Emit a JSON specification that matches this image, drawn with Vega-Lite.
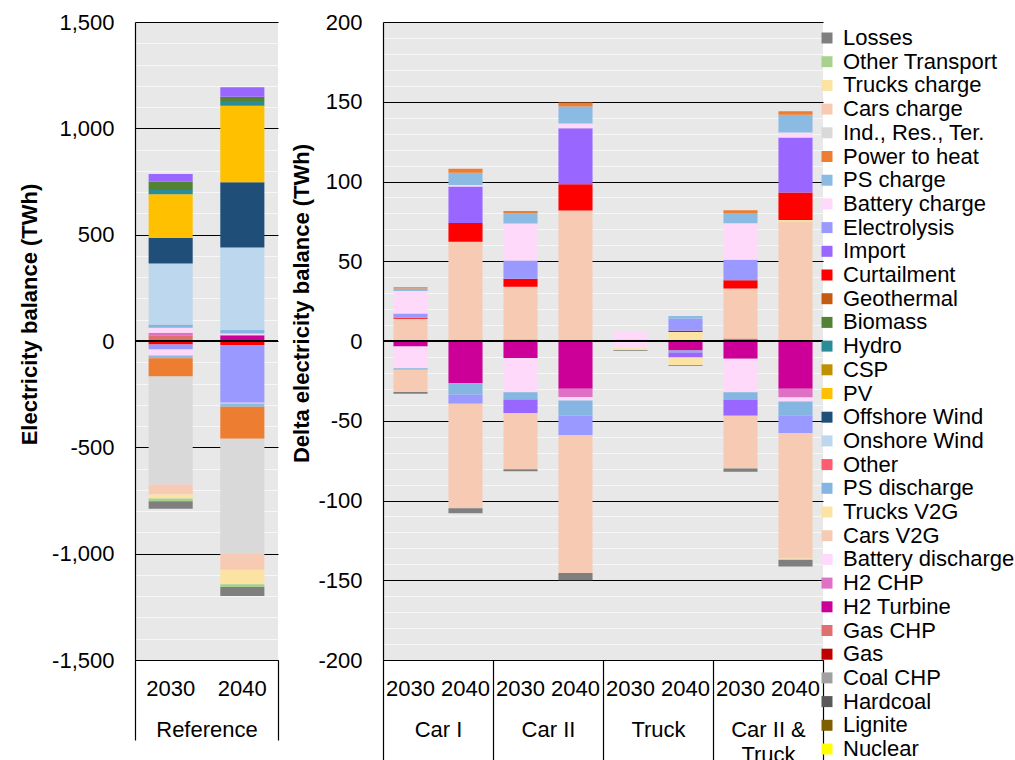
{
  "$schema": "https://vega.github.io/schema/vega-lite/v6.json",
  "background": "white",
  "padding": {"left": 18, "top": 11, "right": 0, "bottom": 0},
  "spacing": 11,
  "config": {
    "font": "Liberation Sans",
    "view": {"stroke": null, "fill": "#e8e8e8"},
    "axis": {"labelFont": "Liberation Sans", "titleFont": "Liberation Sans", "labelColor": "black", "titleColor": "black"}
  },
  "datasets": {
    "ref": [
      {"g": "Reference", "y": "2030", "s": "Gas CHP", "v": 27},
      {"g": "Reference", "y": "2030", "s": "H2 CHP", "v": 12},
      {"g": "Reference", "y": "2030", "s": "Battery discharge", "v": 23},
      {"g": "Reference", "y": "2030", "s": "PS discharge", "v": 16},
      {"g": "Reference", "y": "2030", "s": "Onshore Wind", "v": 286},
      {"g": "Reference", "y": "2030", "s": "Offshore Wind", "v": 122},
      {"g": "Reference", "y": "2030", "s": "PV", "v": 204},
      {"g": "Reference", "y": "2030", "s": "Hydro", "v": 20},
      {"g": "Reference", "y": "2030", "s": "Biomass", "v": 39},
      {"g": "Reference", "y": "2030", "s": "Import", "v": 36},
      {"g": "Reference", "y": "2030", "s": "Curtailment", "v": -16},
      {"g": "Reference", "y": "2030", "s": "Electrolysis", "v": -24},
      {"g": "Reference", "y": "2030", "s": "Battery charge", "v": -28},
      {"g": "Reference", "y": "2030", "s": "PS charge", "v": -13},
      {"g": "Reference", "y": "2030", "s": "Power to heat", "v": -86},
      {"g": "Reference", "y": "2030", "s": "Ind., Res., Ter.", "v": -508},
      {"g": "Reference", "y": "2030", "s": "Cars charge", "v": -47},
      {"g": "Reference", "y": "2030", "s": "Trucks charge", "v": -19},
      {"g": "Reference", "y": "2030", "s": "Other Transport", "v": -13},
      {"g": "Reference", "y": "2030", "s": "Losses", "v": -35},
      {"g": "Reference", "y": "2040", "s": "H2 Turbine", "v": 27},
      {"g": "Reference", "y": "2040", "s": "Battery discharge", "v": 8},
      {"g": "Reference", "y": "2040", "s": "PS discharge", "v": 17},
      {"g": "Reference", "y": "2040", "s": "Onshore Wind", "v": 388},
      {"g": "Reference", "y": "2040", "s": "Offshore Wind", "v": 307},
      {"g": "Reference", "y": "2040", "s": "PV", "v": 359},
      {"g": "Reference", "y": "2040", "s": "Hydro", "v": 22},
      {"g": "Reference", "y": "2040", "s": "Biomass", "v": 20},
      {"g": "Reference", "y": "2040", "s": "Import", "v": 45},
      {"g": "Reference", "y": "2040", "s": "Curtailment", "v": -20},
      {"g": "Reference", "y": "2040", "s": "Electrolysis", "v": -270},
      {"g": "Reference", "y": "2040", "s": "Battery charge", "v": -4},
      {"g": "Reference", "y": "2040", "s": "PS charge", "v": -15},
      {"g": "Reference", "y": "2040", "s": "Power to heat", "v": -151},
      {"g": "Reference", "y": "2040", "s": "Ind., Res., Ter.", "v": -542},
      {"g": "Reference", "y": "2040", "s": "Cars charge", "v": -74},
      {"g": "Reference", "y": "2040", "s": "Trucks charge", "v": -68},
      {"g": "Reference", "y": "2040", "s": "Other Transport", "v": -13},
      {"g": "Reference", "y": "2040", "s": "Losses", "v": -42}
    ],
    "delta": [
      {"g": "Car I", "y": "2030", "s": "Cars V2G", "v": 14.0},
      {"g": "Car I", "y": "2030", "s": "Curtailment", "v": 0.5},
      {"g": "Car I", "y": "2030", "s": "Electrolysis", "v": 2.7},
      {"g": "Car I", "y": "2030", "s": "Battery charge", "v": 14.2},
      {"g": "Car I", "y": "2030", "s": "PS charge", "v": 1.5},
      {"g": "Car I", "y": "2030", "s": "Power to heat", "v": 0.8},
      {"g": "Car I", "y": "2030", "s": "H2 Turbine", "v": -3.4},
      {"g": "Car I", "y": "2030", "s": "Battery discharge", "v": -13.7},
      {"g": "Car I", "y": "2030", "s": "PS discharge", "v": -1.0},
      {"g": "Car I", "y": "2030", "s": "Cars charge", "v": -13.9},
      {"g": "Car I", "y": "2030", "s": "Losses", "v": -1.0},
      {"g": "Car I", "y": "2040", "s": "Cars V2G", "v": 62.3},
      {"g": "Car I", "y": "2040", "s": "Curtailment", "v": 11.7},
      {"g": "Car I", "y": "2040", "s": "Import", "v": 22.8},
      {"g": "Car I", "y": "2040", "s": "Battery charge", "v": 1.0},
      {"g": "Car I", "y": "2040", "s": "PS charge", "v": 7.7},
      {"g": "Car I", "y": "2040", "s": "Power to heat", "v": 2.5},
      {"g": "Car I", "y": "2040", "s": "H2 Turbine", "v": -26.5},
      {"g": "Car I", "y": "2040", "s": "PS discharge", "v": -7.1},
      {"g": "Car I", "y": "2040", "s": "Electrolysis", "v": -5.7},
      {"g": "Car I", "y": "2040", "s": "Cars charge", "v": -65.5},
      {"g": "Car I", "y": "2040", "s": "Losses", "v": -3.2},
      {"g": "Car II", "y": "2030", "s": "Gas CHP", "v": 1.0},
      {"g": "Car II", "y": "2030", "s": "Cars V2G", "v": 33.0},
      {"g": "Car II", "y": "2030", "s": "Curtailment", "v": 5.0},
      {"g": "Car II", "y": "2030", "s": "Electrolysis", "v": 11.5},
      {"g": "Car II", "y": "2030", "s": "Battery charge", "v": 23.2},
      {"g": "Car II", "y": "2030", "s": "PS charge", "v": 6.3},
      {"g": "Car II", "y": "2030", "s": "Power to heat", "v": 1.5},
      {"g": "Car II", "y": "2030", "s": "H2 Turbine", "v": -10.7},
      {"g": "Car II", "y": "2030", "s": "Battery discharge", "v": -21.4},
      {"g": "Car II", "y": "2030", "s": "PS discharge", "v": -4.6},
      {"g": "Car II", "y": "2030", "s": "Import", "v": -8.4},
      {"g": "Car II", "y": "2030", "s": "Cars charge", "v": -35.3},
      {"g": "Car II", "y": "2030", "s": "Losses", "v": -1.3},
      {"g": "Car II", "y": "2040", "s": "Cars V2G", "v": 81.8},
      {"g": "Car II", "y": "2040", "s": "Curtailment", "v": 16.5},
      {"g": "Car II", "y": "2040", "s": "Import", "v": 35.1},
      {"g": "Car II", "y": "2040", "s": "Battery charge", "v": 2.9},
      {"g": "Car II", "y": "2040", "s": "PS charge", "v": 10.7},
      {"g": "Car II", "y": "2040", "s": "Power to heat", "v": 2.5},
      {"g": "Car II", "y": "2040", "s": "H2 Turbine", "v": -30.0},
      {"g": "Car II", "y": "2040", "s": "H2 CHP", "v": -5.2},
      {"g": "Car II", "y": "2040", "s": "Battery discharge", "v": -2.1},
      {"g": "Car II", "y": "2040", "s": "PS discharge", "v": -9.4},
      {"g": "Car II", "y": "2040", "s": "Electrolysis", "v": -12.2},
      {"g": "Car II", "y": "2040", "s": "Cars charge", "v": -86.5},
      {"g": "Car II", "y": "2040", "s": "Losses", "v": -4.6},
      {"g": "Truck", "y": "2030", "s": "Trucks V2G", "v": 1.3},
      {"g": "Truck", "y": "2030", "s": "Battery charge", "v": 4.9},
      {"g": "Truck", "y": "2030", "s": "Battery discharge", "v": -4.6},
      {"g": "Truck", "y": "2030", "s": "Trucks charge", "v": -1.2},
      {"g": "Truck", "y": "2030", "s": "Losses", "v": -0.4},
      {"g": "Truck", "y": "2040", "s": "Trucks V2G", "v": 5.6},
      {"g": "Truck", "y": "2040", "s": "Curtailment", "v": 0.8},
      {"g": "Truck", "y": "2040", "s": "Electrolysis", "v": 7.7},
      {"g": "Truck", "y": "2040", "s": "PS charge", "v": 1.5},
      {"g": "Truck", "y": "2040", "s": "H2 Turbine", "v": -6.0},
      {"g": "Truck", "y": "2040", "s": "PS discharge", "v": -1.2},
      {"g": "Truck", "y": "2040", "s": "Import", "v": -3.1},
      {"g": "Truck", "y": "2040", "s": "Trucks charge", "v": -4.8},
      {"g": "Truck", "y": "2040", "s": "Losses", "v": -0.4},
      {"g": "Car II & Truck", "y": "2030", "s": "Gas CHP", "v": 1.5},
      {"g": "Car II & Truck", "y": "2030", "s": "Cars V2G", "v": 31.4},
      {"g": "Car II & Truck", "y": "2030", "s": "Curtailment", "v": 5.2},
      {"g": "Car II & Truck", "y": "2030", "s": "Electrolysis", "v": 12.8},
      {"g": "Car II & Truck", "y": "2030", "s": "Battery charge", "v": 23.0},
      {"g": "Car II & Truck", "y": "2030", "s": "PS charge", "v": 6.3},
      {"g": "Car II & Truck", "y": "2030", "s": "Power to heat", "v": 1.7},
      {"g": "Car II & Truck", "y": "2030", "s": "H2 Turbine", "v": -11.1},
      {"g": "Car II & Truck", "y": "2030", "s": "Battery discharge", "v": -21.0},
      {"g": "Car II & Truck", "y": "2030", "s": "PS discharge", "v": -4.8},
      {"g": "Car II & Truck", "y": "2030", "s": "Import", "v": -9.9},
      {"g": "Car II & Truck", "y": "2030", "s": "Cars charge", "v": -33.2},
      {"g": "Car II & Truck", "y": "2030", "s": "Losses", "v": -1.9},
      {"g": "Car II & Truck", "y": "2040", "s": "Cars V2G", "v": 74.9},
      {"g": "Car II & Truck", "y": "2040", "s": "Trucks V2G", "v": 1.0},
      {"g": "Car II & Truck", "y": "2040", "s": "Curtailment", "v": 17.2},
      {"g": "Car II & Truck", "y": "2040", "s": "Import", "v": 34.5},
      {"g": "Car II & Truck", "y": "2040", "s": "Battery charge", "v": 3.1},
      {"g": "Car II & Truck", "y": "2040", "s": "PS charge", "v": 11.1},
      {"g": "Car II & Truck", "y": "2040", "s": "Power to heat", "v": 2.3},
      {"g": "Car II & Truck", "y": "2040", "s": "H2 Turbine", "v": -30.0},
      {"g": "Car II & Truck", "y": "2040", "s": "H2 CHP", "v": -5.5},
      {"g": "Car II & Truck", "y": "2040", "s": "Battery discharge", "v": -2.5},
      {"g": "Car II & Truck", "y": "2040", "s": "PS discharge", "v": -8.8},
      {"g": "Car II & Truck", "y": "2040", "s": "Electrolysis", "v": -10.9},
      {"g": "Car II & Truck", "y": "2040", "s": "Cars charge", "v": -78.7},
      {"g": "Car II & Truck", "y": "2040", "s": "Trucks charge", "v": -0.8},
      {"g": "Car II & Truck", "y": "2040", "s": "Losses", "v": -4.2}
    ]
  },
  "hconcat": [
    {
      "width": 143,
      "height": 638,
      "data": {"name": "ref"},
      "transform": [
        {"calculate": "indexof(['Losses','Other Transport','Trucks charge','Cars charge','Ind., Res., Ter.','Power to heat','PS charge','Battery charge','Electrolysis','Import','Curtailment','Geothermal','Biomass','Hydro','CSP','PV','Offshore Wind','Onshore Wind','Other','PS discharge','Trucks V2G','Cars V2G','Battery discharge','H2 CHP','H2 Turbine','Gas CHP','Gas','Coal CHP','Hardcoal','Lignite','Nuclear'], datum.s)", "as": "o"}
      ],
      "layer": [
        {
          "mark": {"type": "bar"},
          "encoding": {
            "x": {"field": "y", "type": "nominal",
              "scale": {"domain": ["2030", "2040"], "paddingInner": 0.385, "paddingOuter": 0.19},
              "axis": {"orient": "bottom", "title": null, "ticks": false, "domain": true, "domainColor": "black", "domainWidth": 1.2, "labelPadding": 18, "labelFontSize": 22, "labelAngle": 0, "grid": false}},
            "y": {"field": "v", "type": "quantitative", "stack": "zero",
              "scale": {"domain": [-1500, 1500], "nice": false, "zero": false},
              "axis": {"values": [-1500, -1000, -500, 0, 500, 1000, 1500],
                "title": "Electricity balance  (TWh)", "titleFontSize": 22, "titleFontWeight": "bold", "titlePadding": 10, "titleY": 292,
                "grid": true, "gridColor": "black", "gridWidth": 1.2,
                "ticks": false, "domain": true, "domainColor": "black", "domainWidth": 1.2,
                "labelFontSize": 22, "labelPadding": 21, "labelOverlap": false,
                "labelExpr": "replace(format(datum.value, ','), '\u2212', '-')"}},
            "color": {"field": "s", "type": "nominal",
              "scale": {
                "domain": ["Losses","Other Transport","Trucks charge","Cars charge","Ind., Res., Ter.","Power to heat","PS charge","Battery charge","Electrolysis","Import","Curtailment","Geothermal","Biomass","Hydro","CSP","PV","Offshore Wind","Onshore Wind","Other","PS discharge","Trucks V2G","Cars V2G","Battery discharge","H2 CHP","H2 Turbine","Gas CHP","Gas","Coal CHP","Hardcoal","Lignite","Nuclear"],
                "range": ["#7f7f7f","#a9d18e","#fce3a4","#f7cab4","#d9d9d9","#ed7d31","#8bbbe3","#ffd9f9","#9999ff","#9966ff","#ff0000","#c55a11","#548235","#2a8c96","#bf9000","#ffc000","#1f4e79","#bdd7ee","#ff5b6e","#84b6e1","#fce3a4","#f7cab4","#ffd9f9","#e070c4","#cc0099","#e07070","#c00000","#a0a0a0","#595959","#7f6000","#ffff00"]
              },
              "legend": {"orient": "none", "legendX": 681, "legendY": 5, "title": null, "symbolType": "square", "symbolSize": 121, "symbolStrokeWidth": 0, "symbolLimit": 0, "labelFontSize": 22, "labelFont": "Liberation Sans", "labelColor": "black", "labelLimit": 300, "labelOffset": 5, "rowPadding": 1.7, "padding": 0}},
            "order": {"field": "o", "type": "quantitative", "sort": "descending"}
          }
        },
        {
          "mark": {"type": "bar", "opacity": 0},
          "encoding": {
            "x": {"field": "g", "type": "nominal",
              "scale": {"type": "band", "domain": ["Reference"], "paddingInner": 0, "paddingOuter": 0},
              "axis": {"orient": "bottom", "title": null, "domain": false, "tickBand": "extent", "tickSize": 80, "tickColor": "black", "tickWidth": 1.2, "labelPadding": -21, "labelFontSize": 22, "labelAngle": 0, "grid": false}},
            "y": {"datum": 0,
              "scale": {"domain": [-1500, 1500], "nice": false, "zero": false},
              "axis": {"orient": "right", "values": [-1400,-1300,-1200,-1100,-900,-800,-700,-600,-400,-300,-200,-100,100,200,300,400,600,700,800,900,1100,1200,1300,1400],
                "title": null, "labels": false, "ticks": false, "domain": false, "grid": true, "gridColor": "#f7f7f7", "gridWidth": 1}}
          }
        },
        {
          "mark": {"type": "rule", "color": "black", "strokeWidth": 1.2},
          "encoding": {"y": {"datum": 0, "scale": {"domain": [-1500, 1500], "nice": false, "zero": false}, "axis": null}}
        }
      ],
      "resolve": {"scale": {"x": "independent", "y": "independent"}, "axis": {"x": "independent", "y": "independent"}}
    },
    {
      "width": 440,
      "height": 638,
      "data": {"name": "delta"},
      "transform": [
        {"calculate": "indexof(['Losses','Other Transport','Trucks charge','Cars charge','Ind., Res., Ter.','Power to heat','PS charge','Battery charge','Electrolysis','Import','Curtailment','Geothermal','Biomass','Hydro','CSP','PV','Offshore Wind','Onshore Wind','Other','PS discharge','Trucks V2G','Cars V2G','Battery discharge','H2 CHP','H2 Turbine','Gas CHP','Gas','Coal CHP','Hardcoal','Lignite','Nuclear'], datum.s)", "as": "o"},
        {"calculate": "datum.g + '|' + datum.y", "as": "k"}
      ],
      "layer": [
        {
          "mark": {"type": "bar"},
          "encoding": {
            "x": {"field": "k", "type": "nominal",
              "scale": {"domain": ["Car I|2030","Car I|2040","Car II|2030","Car II|2040","Truck|2030","Truck|2040","Car II & Truck|2030","Car II & Truck|2040"], "paddingInner": 0.38, "paddingOuter": 0.19},
              "axis": {"orient": "bottom", "title": null, "ticks": false, "domain": true, "domainColor": "black", "domainWidth": 1.2, "labelPadding": 18, "labelFontSize": 22, "labelAngle": 0, "grid": false, "labelExpr": "split(datum.value, '|')[1]"}},
            "y": {"field": "v", "type": "quantitative", "stack": "zero",
              "scale": {"domain": [-200, 200], "nice": false, "zero": false},
              "axis": {"values": [-200, -150, -100, -50, 0, 50, 100, 150, 200],
                "title": "Delta electricity balance  (TWh)", "titleFontSize": 22, "titleFontWeight": "bold", "titlePadding": 4, "titleY": 281,
                "grid": true, "gridColor": "black", "gridWidth": 1.2,
                "ticks": false, "domain": true, "domainColor": "black", "domainWidth": 1.2,
                "labelFontSize": 22, "labelPadding": 21, "labelOverlap": false,
                "labelExpr": "'' + datum.value"}},
            "color": {"field": "s", "type": "nominal",
              "scale": {
                "domain": ["Losses","Other Transport","Trucks charge","Cars charge","Ind., Res., Ter.","Power to heat","PS charge","Battery charge","Electrolysis","Import","Curtailment","Geothermal","Biomass","Hydro","CSP","PV","Offshore Wind","Onshore Wind","Other","PS discharge","Trucks V2G","Cars V2G","Battery discharge","H2 CHP","H2 Turbine","Gas CHP","Gas","Coal CHP","Hardcoal","Lignite","Nuclear"],
                "range": ["#7f7f7f","#a9d18e","#fce3a4","#f7cab4","#d9d9d9","#ed7d31","#8bbbe3","#ffd9f9","#9999ff","#9966ff","#ff0000","#c55a11","#548235","#2a8c96","#bf9000","#ffc000","#1f4e79","#bdd7ee","#ff5b6e","#84b6e1","#fce3a4","#f7cab4","#ffd9f9","#e070c4","#cc0099","#e07070","#c00000","#a0a0a0","#595959","#7f6000","#ffff00"]
              },
              "legend": {"orient": "none", "legendX": 681, "legendY": 5, "title": null, "symbolType": "square", "symbolSize": 121, "symbolStrokeWidth": 0, "symbolLimit": 0, "labelFontSize": 22, "labelFont": "Liberation Sans", "labelColor": "black", "labelLimit": 300, "labelOffset": 5, "rowPadding": 1.7, "padding": 0}},
            "order": {"field": "o", "type": "quantitative", "sort": "descending"}
          }
        },
        {
          "mark": {"type": "bar", "opacity": 0},
          "encoding": {
            "x": {"field": "g", "type": "nominal",
              "scale": {"type": "band", "domain": ["Car I", "Car II", "Truck", "Car II & Truck"], "paddingInner": 0, "paddingOuter": 0},
              "axis": {"orient": "bottom", "title": null, "domain": false, "tickBand": "extent", "tickSize": 110, "tickColor": "black", "tickWidth": 1.2, "labelPadding": -51, "labelFontSize": 22, "labelAngle": 0, "labelLineHeight": 25, "grid": false,
                "labelExpr": "datum.value === 'Car II & Truck' ? ['Car II &', 'Truck'] : datum.value"}},
            "y": {"datum": 0,
              "scale": {"domain": [-200, 200], "nice": false, "zero": false},
              "axis": {"orient": "right", "values": [-190,-180,-170,-160,-140,-130,-120,-110,-90,-80,-70,-60,-40,-30,-20,-10,10,20,30,40,60,70,80,90,110,120,130,140,160,170,180,190],
                "title": null, "labels": false, "ticks": false, "domain": false, "grid": true, "gridColor": "#f7f7f7", "gridWidth": 1}}
          }
        },
        {
          "mark": {"type": "rule", "color": "black", "strokeWidth": 1.2},
          "encoding": {"y": {"datum": 0, "scale": {"domain": [-200, 200], "nice": false, "zero": false}, "axis": null}}
        }
      ],
      "resolve": {"scale": {"x": "independent", "y": "independent"}, "axis": {"x": "independent", "y": "independent"}}
    }
  ],
  "resolve": {"scale": {"color": "shared"}}
}
